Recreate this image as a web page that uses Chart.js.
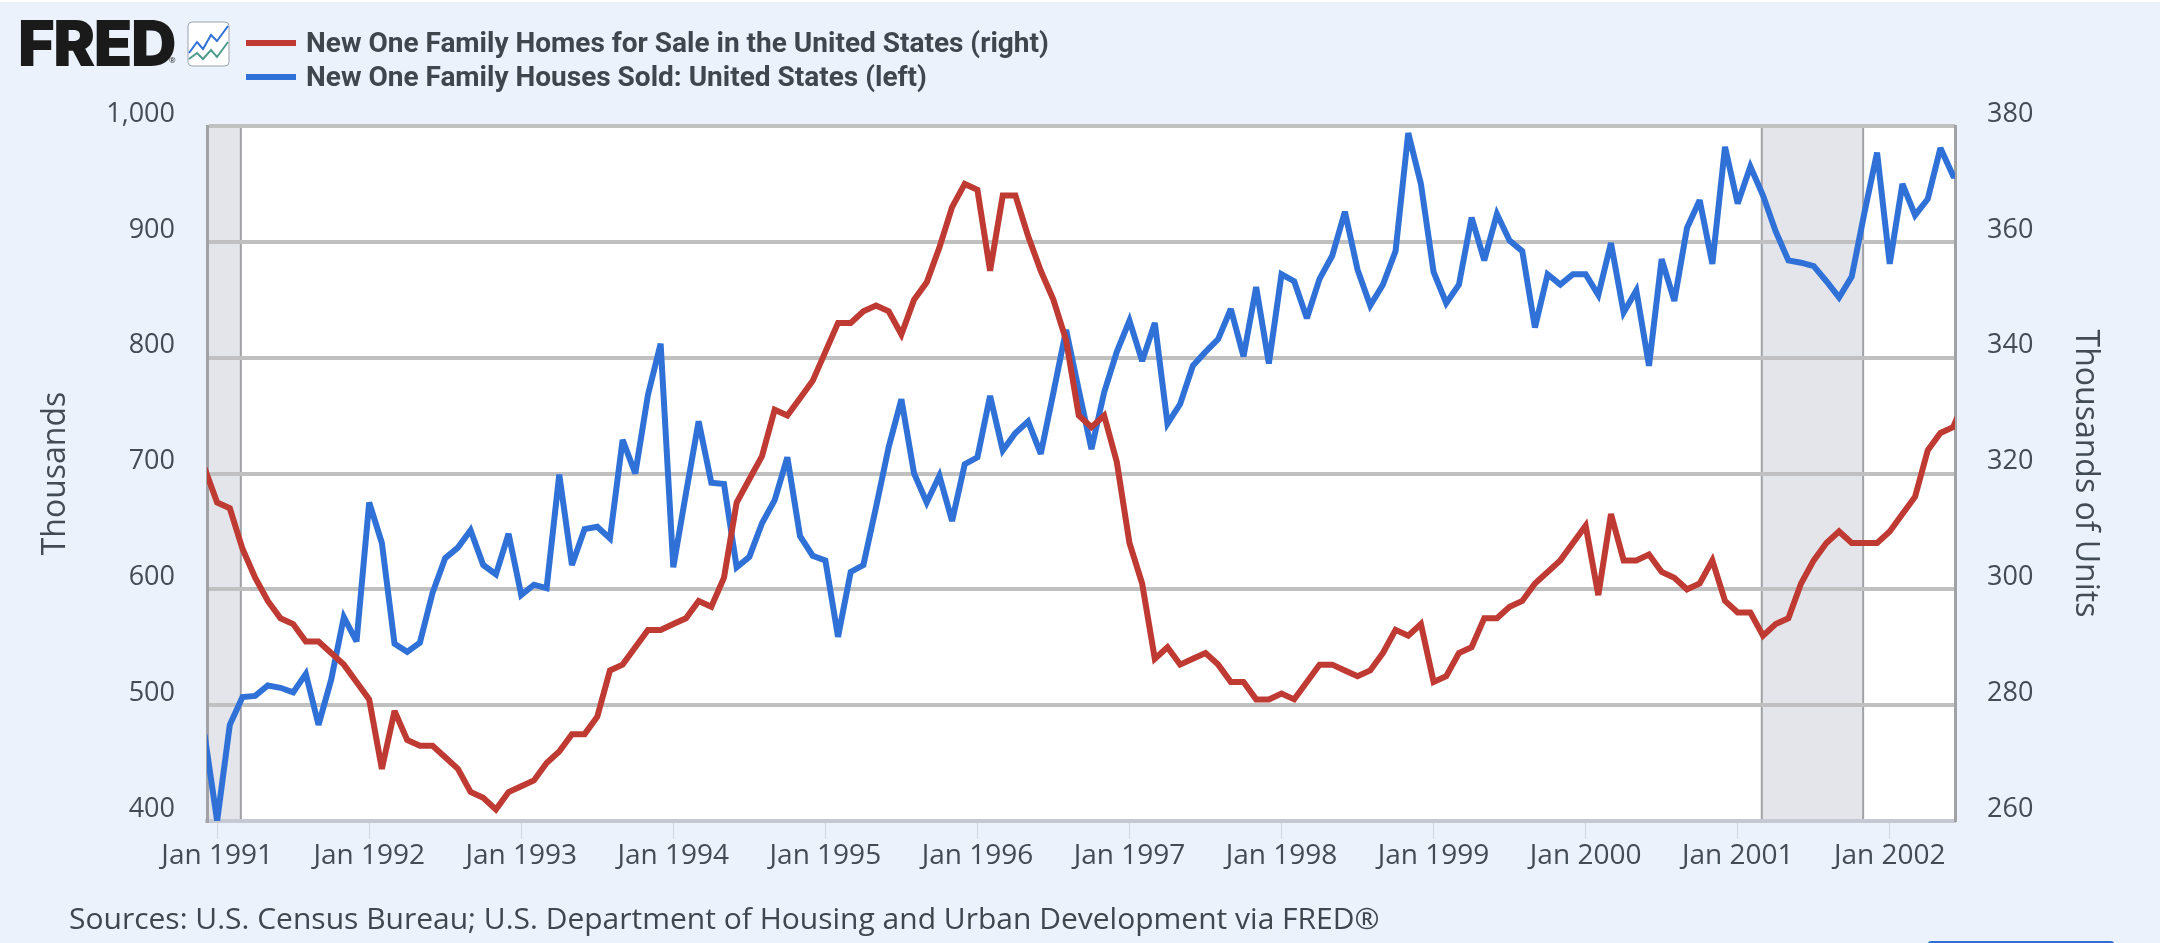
<!DOCTYPE html>
<html>
<head>
<meta charset="utf-8">
<title>New One Family Homes</title>
<script src="https://cdn.jsdelivr.net/npm/chart.js@4"></script>
<style>
    html, body { margin: 0; padding: 0; background: #ebf2fb; }
    #page { position: relative; width: 2160px; height: 943px; overflow: hidden; background: #ebf2fb; border-top: 0; }
    #page::before { content: ""; position: absolute; left: 0; top: 0; width: 100%; height: 2px; background: #fff; }
    canvas { position: absolute; left: 0; top: 0; }
    .logo { position: absolute; left: 18px; top: 5px; font: 900 63px/76px Inter, sans-serif; letter-spacing: -1.5px; color: #1a1a1a; }
    .logo sup { position: absolute; left: 151px; top: 51px; font: 400 8px/8px "Open Sans", sans-serif; letter-spacing: 0; }
    .icon { position: absolute; left: 187px; top: 21px; }
    .legend { position: absolute; left: 246px; font: 700 28px/34px Roboto, sans-serif; color: #40464e; white-space: nowrap; }
    .legend i { position: absolute; left: 0; top: 14px; width: 50px; height: 6px; }
    .legend span { position: absolute; left: 60px; top: 0; }
    .source { position: absolute; left: 69px; top: 899px; font: 400 30px/38px "Open Sans", sans-serif; color: #40464e; white-space: nowrap; }
    .button { position: absolute; left: 1928px; top: 941px; width: 186px; height: 6px; border-radius: 4px; background: #2f6fd0; }
</style>
</head>
<body>
<div id="page">
    <canvas id="chart" width="2160" height="943"></canvas>
    <div class="logo">FRED<sup>®</sup></div>
    <svg class="icon" width="43" height="46" viewBox="0 0 43 46">
        <rect x="1" y="1" width="41" height="44" rx="4" fill="#fff" stroke="#9aa3ad"/>
        <polyline points="2,32 10,21 16,28 24,14 30,20 41,5" fill="none" stroke="#3071d8" stroke-width="2"/>
        <polyline points="2,38 10,32 16,38 24,29 30,36 41,21" fill="none" stroke="#4f9a8a" stroke-width="2"/>
    </svg>
    <div id="legend"></div>
    <div class="source">Sources: U.S. Census Bureau; U.S. Department of Housing and Urban Development via FRED®</div>
    <div class="button"></div>
</div>

<script>
// monthly series, first value is Dec 1990, last is Jul 2002
const homesForSale = [
    321,
    315, 314, 307, 302, 298, 295, 294, 291, 291, 289, 287, 284,
    281, 269, 279, 274, 273, 273, 271, 269, 265, 264, 262, 265,
    266, 267, 270, 272, 275, 275, 278, 286, 287, 290, 293, 293,
    294, 295, 298, 297, 302, 315, 319, 323, 331, 330, 333, 336,
    341, 346, 346, 348, 349, 348, 344, 350, 353, 359, 366, 370,
    369, 355, 368, 368, 361, 355, 350, 343, 330, 328, 330, 322,
    308, 301, 288, 290, 287, 288, 289, 287, 284, 284, 281, 281,
    282, 281, 284, 287, 287, 286, 285, 286, 289, 293, 292, 294,
    284, 285, 289, 290, 295, 295, 297, 298, 301, 303, 305, 308,
    311, 299, 313, 305, 305, 306, 303, 302, 300, 301, 305, 298,
    296, 296, 292, 294, 295, 301, 305, 308, 310, 308, 308, 308,
    310, 313, 316, 324, 327, 328, 333
];

const housesSold = [
    475,
    400, 483, 507, 508, 517, 515, 511, 527, 483, 522, 576, 555,
    675, 640, 553, 546, 554, 597, 627, 636, 651, 621, 613, 648,
    595, 604, 601, 699, 621, 652, 654, 644, 729, 700, 768, 812,
    619, 683, 745, 692, 691, 619, 628, 657, 677, 714, 646, 629,
    625, 559, 615, 621, 671, 723, 764, 700, 675, 698, 659, 708,
    714, 767, 720, 735, 745, 717, 770, 824, 772, 721, 770, 805,
    832, 797, 830, 743, 760, 793, 805, 816, 842, 801, 861, 795,
    872, 866, 834, 868, 888, 926, 876, 845, 863, 892, 994, 950,
    874, 847, 863, 921, 884, 924, 901, 892, 826, 872, 863, 872,
    872, 854, 899, 839, 858, 793, 885, 849, 912, 936, 881, 982,
    933, 965, 940, 909, 884, 882, 879, 866, 852, 870, 925, 977,
    881, 950, 923, 937, 981, 957, 957
];

const seriesNames = [
    "New One Family Homes for Sale in the United States (right)",
    "New One Family Houses Sold: United States (left)"
];
const seriesColors = ["#bf3a32", "#3071d8"];

// x values count months from Jan 1991
const tickMonths = [0, 12, 24, 36, 48, 60, 72, 84, 96, 108, 120, 132];
const tickLabels = ["Jan 1991", "Jan 1992", "Jan 1993", "Jan 1994", "Jan 1995", "Jan 1996",
    "Jan 1997", "Jan 1998", "Jan 1999", "Jan 2000", "Jan 2001", "Jan 2002"];
const recessionStart = [-6, 121.9];
const recessionEnd = [1.87, 129.9];

const textColor = "#434b55";

function toPoints(values) {
    return values.map(function (v, i) {
        return { x: i - 1, y: v };
    });
}

// white plot background and the shaded recessions, both under the grid
const plotBackground = {
    id: "plotBackground",
    beforeDraw(chart) {
        const { ctx, chartArea, scales } = chart;
        ctx.save();
        ctx.fillStyle = "#fff";
        ctx.fillRect(chartArea.left, chartArea.top, chartArea.width, chartArea.height);
        recessionStart.forEach(function (start, i) {
            const x0 = Math.max(scales.x.getPixelForValue(start), chartArea.left);
            const x1 = scales.x.getPixelForValue(recessionEnd[i]);
            ctx.fillStyle = "#e3e5ea";
            ctx.fillRect(x0, chartArea.top, x1 - x0, chartArea.height);
            ctx.fillStyle = "#a0a2a6";
            if (start > scales.x.min) ctx.fillRect(x0 - 1, chartArea.top, 2, chartArea.height);
            ctx.fillRect(x1 - 1, chartArea.top, 2, chartArea.height);
        });
        ctx.restore();
    },
    beforeDatasetsDraw(chart) {
        chart.ctx.miterLimit = 3;
    }
};

new Chart(document.getElementById("chart"), {
    type: "line",
    plugins: [plotBackground],
    data: {
        datasets: [
            {
                label: seriesNames[0],
                data: toPoints(homesForSale),
                yAxisID: "y1",
                borderColor: seriesColors[0],
                borderWidth: 6,
                borderJoinStyle: "miter",
                pointRadius: 0,
                tension: 0
            },
            {
                label: seriesNames[1],
                data: toPoints(housesSold),
                yAxisID: "y",
                borderColor: seriesColors[1],
                borderWidth: 6,
                borderJoinStyle: "miter",
                pointRadius: 0,
                tension: 0
            }
        ]
    },
    options: {
        responsive: false,
        animation: false,
        layout: { padding: { top: 126, left: 0, right: 0, bottom: 0 } },
        plugins: {
            legend: { display: false },
            tooltip: { enabled: false }
        },
        scales: {
            x: {
                type: "linear",
                min: -0.8,
                max: 137.15,
                afterFit(scale) { scale.height = 122; },
                afterBuildTicks(scale) {
                    scale.ticks = tickMonths.map(function (m) { return { value: m }; });
                },
                grid: {
                    drawOnChartArea: false,
                    drawTicks: true,
                    tickLength: 18,
                    tickColor: "#cfd5e3",
                    tickWidth: 1
                },
                border: { display: true, color: "#c6c9d4", width: 4 },
                ticks: {
                    autoSkip: false,
                    maxRotation: 0,
                    padding: 0,
                    color: textColor,
                    font: { family: "Open Sans", size: 28 },
                    callback(value) { return tickLabels[tickMonths.indexOf(value)]; }
                }
            },
            y: {
                position: "left",
                min: 400,
                max: 1000,
                afterFit(scale) { scale.width = 207; },
                grid: { color: "#c0c0c0", lineWidth: 4, drawTicks: false },
                border: { display: true, color: "#a0a2a6", width: 3 },
                title: {
                    display: true,
                    text: "Thousands",
                    color: textColor,
                    font: { family: "Open Sans", size: 32 },
                    padding: { top: 37, bottom: 0 }
                },
                ticks: {
                    stepSize: 100,
                    padding: 32,
                    labelOffset: -12,
                    color: textColor,
                    font: { family: "Open Sans", size: 27 },
                    callback(value) { return value.toLocaleString("en-US"); }
                }
            },
            y1: {
                position: "right",
                min: 260,
                max: 380,
                afterFit(scale) { scale.width = 205; },
                grid: { drawOnChartArea: false, drawTicks: false },
                border: { display: true, color: "#a0a2a6", width: 3 },
                title: {
                    display: true,
                    text: "Thousands of Units",
                    color: textColor,
                    font: { family: "Open Sans", size: 32 },
                    padding: { top: 56, bottom: 0 }
                },
                ticks: {
                    stepSize: 20,
                    padding: 32,
                    labelOffset: -12,
                    color: textColor,
                    font: { family: "Open Sans", size: 27 }
                }
            }
        }
    }
});

// legend rows
const legendTops = [26, 60];
seriesNames.forEach(function (name, i) {
    const row = document.createElement("div");
    row.className = "legend";
    row.style.top = legendTops[i] + "px";
    row.innerHTML = '<i style="background:' + seriesColors[i] + '"></i><span>' + name + "</span>";
    document.getElementById("legend").appendChild(row);
});
</script>
</body>
</html>
